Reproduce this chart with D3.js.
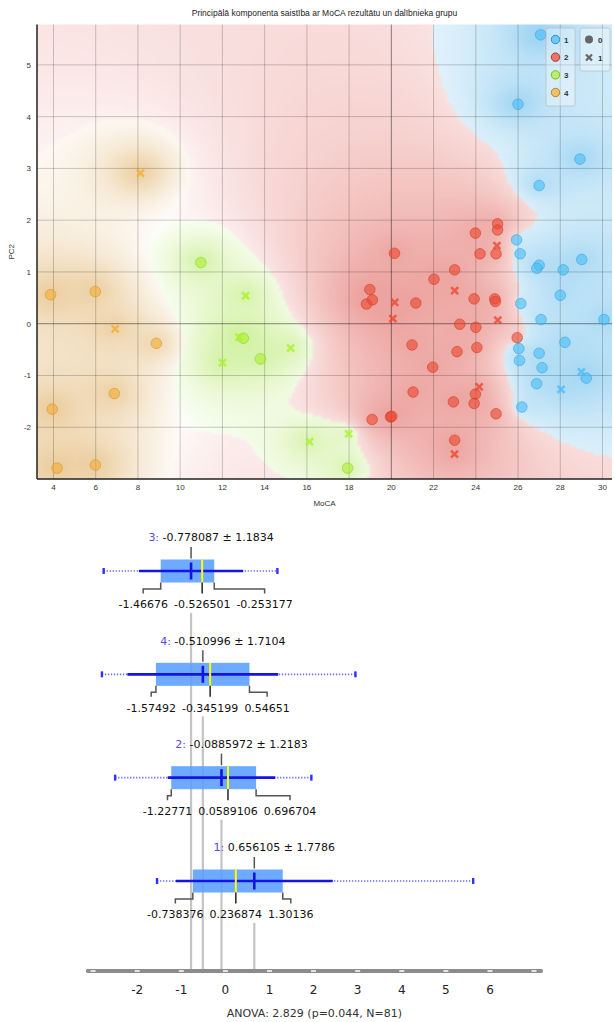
<!DOCTYPE html>
<html><head><meta charset="utf-8">
<script src="https://cdn.jsdelivr.net/npm/d3@7"></script>
<style>
html,body{margin:0;padding:0;background:#fff;}
svg{display:block;}
</style></head><body>
<svg id="chart" width="614" height="1022"></svg>
<script>
// ---------------- DATA ----------------
const titleText = "Principālā komponenta saistība ar MoCA rezultātu un dalībnieka grupu";
const xLabel = "MoCA";
const yLabel = "PC2";
const groupNames = ["1", "2", "3", "4"];
const shapeNames = ["0", "1"];
const xTicks = [4, 6, 8, 10, 12, 14, 16, 18, 20, 22, 24, 26, 28, 30];
const yTicks = [-2, -1, 0, 1, 2, 3, 4, 5];

// group 1
const mocaG1 = [27.07,26.0,28.93,27.0,25.93,26.1,29.02,27.0,26.89,28.14,28.0,26.13,27.09,30.07,28.22,26.04,27.0,26.07,27.14,29.0,29.23,26.88,28.04,26.18];
const pc2G1  = [5.58,4.24,3.18,2.67,1.62,1.35,1.24,1.13,1.07,1.04,0.55,0.39,0.08,0.08,-0.36,-0.48,-0.57,-0.71,-0.85,-0.93,-1.05,-1.16,-1.27,-1.61];
const shapeG1 = [0,0,0,0,0,0,0,0,0,0,0,0,0,0,0,0,0,0,0,1,0,0,1,0];
// group 2
const mocaG2 = [25.03,25.03,23.98,25.0,20.15,24.2,24.96,23.0,22.02,18.98,19.1,18.82,20.16,21.16,23.0,23.92,24.9,24.93,20.07,25.04,23.24,24.0,25.96,20.98,23.11,24.05,21.96,24.16,21.03,23.98,22.94,23.92,24.96,19.96,20.02,19.09,23.0,22.99];
const pc2G2  = [1.93,1.81,1.75,1.51,1.36,1.35,1.35,1.04,0.86,0.66,0.46,0.38,0.41,0.40,0.64,0.48,0.48,0.43,0.10,0.07,-0.01,-0.07,-0.27,-0.41,-0.54,-0.46,-0.84,-1.22,-1.32,-1.36,-1.51,-1.54,-1.74,-1.80,-1.79,-1.85,-2.25,-2.52];
const shapeG2 = [0,0,0,1,0,0,0,0,0,0,0,0,1,0,1,0,0,0,1,1,0,0,0,0,0,0,0,1,0,0,0,0,0,0,0,0,0,1];
// group 3
const mocaG3 = [10.98,13.1,12.78,12.99,13.8,12.0,15.23,16.13,17.98,17.93];
const pc2G3  = [1.18,0.54,-0.26,-0.28,-0.68,-0.75,-0.47,-2.28,-2.13,-2.79];
const shapeG3 = [0,1,1,0,0,1,1,1,1,0];
// group 4
const mocaG4 = [3.86,5.98,6.92,8.87,3.94,6.88,4.17,5.98,8.12];
const pc2G4  = [0.56,0.62,-0.10,-0.38,-1.65,-1.35,-2.79,-2.73,2.91];
const shapeG4 = [0,0,1,0,0,0,0,0,1];

// box plot statistics of PC2 by group (rows ordered as displayed)
const boxGroups = ["3", "4", "2", "1"];
const boxMean = [-0.778087, -0.510996, -0.0885972, 0.656105];
const boxSD = [1.1834, 1.7104, 1.2183, 1.7786];
const boxQ1 = [-1.46676, -1.57492, -1.22771, -0.738376];
const boxMedian = [-0.526501, -0.345199, 0.0589106, 0.236874];
const boxQ3 = [-0.253177, 0.54651, 0.696704, 1.30136];
const boxMin = [-2.76, -2.80, -2.50, -1.55];
const boxMax = [1.18, 2.95, 1.95, 5.62];
const boxTicks = [-2, -1, 0, 1, 2, 3, 4, 5, 6];
const anovaText = "ANOVA: 2.829 (p=0.044, N=81)";

// ---------------- STYLE ----------------
const pointColors = ["#46befa", "#ed462f", "#aaf22b", "#f5ae32"];
const regionColors = [[80,178,232],[222,88,80],[165,228,70],[220,165,80]];

const groupSets = [[mocaG1, pc2G1, shapeG1], [mocaG2, pc2G2, shapeG2], [mocaG3, pc2G3, shapeG3], [mocaG4, pc2G4, shapeG4]];
const points = [];
groupSets.forEach((s, g) => s[0].forEach((m, i) => points.push({ g, m, v: s[1][i], s: s[2][i] })));

const svg = d3.select("#chart");

// ---------------- SCATTER ----------------
const L = 37, R = 612, T = 24.5, B = 479;
const x = d3.scaleLinear().domain([3.22, 30.45]).range([L, R]);
const y = d3.scaleLinear().domain([-3.0, 5.78]).range([B, T]);

// class region background (distance-weighted class shares, on a unit-square normalisation)
(function () {
  const res = 3;
  const W = R - L, H = B - T;
  const gw = Math.ceil(W / res), gh = Math.ceil(H / res);
  const cv = document.createElement("canvas");
  cv.width = gw; cv.height = gh;
  const ctx = cv.getContext("2d");
  const im = ctx.createImageData(gw, gh);
  const ky = W / H;
  const pts = points.map(p => [x(p.m) - L, (y(p.v) - T) * ky, p.g]);
  const s2 = 15 * 15;
  for (let j = 0; j < gh; j++) {
    for (let i = 0; i < gw; i++) {
      const cx = (i + 0.5) * res, cy = (j + 0.5) * res * ky;
      const w = [0, 0, 0, 0];
      for (const p of pts) {
        const dx = p[0] - cx, dy = p[1] - cy;
        w[p[2]] += Math.pow(dx * dx + dy * dy + s2, -0.9);
      }
      const tot = w[0] + w[1] + w[2] + w[3];
      let best = 0;
      for (let k = 1; k < 4; k++) if (w[k] > w[best]) best = k;
      const pr = w[best] / tot;
      let a = Math.max(0, Math.min(1, (pr - 0.28) / 0.6));
      a = 0.55 * Math.pow(a, 0.85);
      const c = regionColors[best];
      const o = (j * gw + i) * 4;
      im.data[o] = 255 * (1 - a) + c[0] * a;
      im.data[o + 1] = 255 * (1 - a) + c[1] * a;
      im.data[o + 2] = 255 * (1 - a) + c[2] * a;
      im.data[o + 3] = 255;
    }
  }
  ctx.putImageData(im, 0, 0);
  svg.append("image")
    .attr("x", L).attr("y", T).attr("width", W).attr("height", H)
    .attr("preserveAspectRatio", "none")
    .attr("href", cv.toDataURL());
})();

// grid
const grid = svg.append("g");
grid.selectAll("line.vx").data(xTicks).join("line")
  .attr("x1", d => x(d)).attr("x2", d => x(d)).attr("y1", T).attr("y2", B)
  .attr("stroke", d => d === 20 ? "rgba(0,0,0,0.45)" : "rgba(0,0,0,0.2)").attr("stroke-width", 1);
grid.selectAll("line.hy").data(yTicks).join("line")
  .attr("y1", d => y(d)).attr("y2", d => y(d)).attr("x1", L).attr("x2", R)
  .attr("stroke", d => d === 0 ? "rgba(0,0,0,0.45)" : "rgba(0,0,0,0.2)").attr("stroke-width", 1);

// axes
svg.append("line").attr("x1", L).attr("x2", L).attr("y1", T).attr("y2", B).attr("stroke", "#222").attr("stroke-width", 1.5);
svg.append("line").attr("x1", L).attr("x2", R).attr("y1", B).attr("y2", B).attr("stroke", "#222").attr("stroke-width", 1.5);

const tickFont = "Liberation Sans, Arial, sans-serif";
svg.append("g").selectAll("text").data(xTicks).join("text")
  .attr("x", d => x(d)).attr("y", B + 11).attr("text-anchor", "middle")
  .attr("font-family", tickFont).attr("font-size", 8).attr("fill", "#333").text(d => d);
svg.append("g").selectAll("text").data(yTicks).join("text")
  .attr("x", L - 6).attr("y", d => y(d) + 3).attr("text-anchor", "end")
  .attr("font-family", tickFont).attr("font-size", 8).attr("fill", "#333").text(d => d);

svg.append("text").attr("x", (L + R) / 2).attr("y", 506).attr("text-anchor", "middle")
  .attr("font-family", tickFont).attr("font-size", 8).attr("fill", "#333").text(xLabel);
svg.append("text").attr("transform", `translate(14,${(T + B) / 2}) rotate(-90)`).attr("text-anchor", "middle")
  .attr("font-family", tickFont).attr("font-size", 8).attr("fill", "#333").text(yLabel);
svg.append("text").attr("x", (L + R) / 2).attr("y", 16).attr("text-anchor", "middle")
  .attr("font-family", tickFont).attr("font-size", 8.5).attr("fill", "#222").text(titleText);

// points
const pg = svg.append("g");
pg.selectAll("circle").data(points.filter(p => p.s === 0)).join("circle")
  .attr("cx", p => x(p.m)).attr("cy", p => y(p.v)).attr("r", 5.3)
  .attr("fill", p => pointColors[p.g]).attr("fill-opacity", 0.6)
  .attr("stroke", p => d3.color(pointColors[p.g]).darker(0.5)).attr("stroke-opacity", 0.55).attr("stroke-width", 1);
const cross = (cx, cy, s) => `M${cx - s},${cy - s}L${cx + s},${cy + s}M${cx - s},${cy + s}L${cx + s},${cy - s}`;
pg.selectAll("path").data(points.filter(p => p.s === 1)).join("path")
  .attr("d", p => cross(x(p.m), y(p.v), 3.5))
  .attr("stroke", p => pointColors[p.g]).attr("stroke-opacity", 0.8).attr("stroke-width", 2.5).attr("fill", "none");

// legends
const leg = svg.append("g");
leg.append("rect").attr("x", 546).attr("y", 28).attr("width", 29).attr("height", 78).attr("rx", 2)
  .attr("fill", "rgba(255,255,255,0.35)").attr("stroke", "rgba(180,180,180,0.6)");
const legY = d3.scalePoint().domain(groupNames).range([39.5, 92.5]);
leg.selectAll("circle.g").data(groupNames).join("circle")
  .attr("cx", 555.5).attr("cy", d => legY(d)).attr("r", 4.2)
  .attr("fill", (d, i) => pointColors[i]).attr("fill-opacity", 0.7)
  .attr("stroke", (d, i) => d3.color(pointColors[i]).darker(0.8)).attr("stroke-width", 1);
leg.selectAll("text.g").data(groupNames).join("text")
  .attr("x", 564).attr("y", d => legY(d) + 3).attr("font-family", tickFont).attr("font-size", 8)
  .attr("font-weight", "bold").attr("fill", "#333").text(d => d);
leg.append("rect").attr("x", 580).attr("y", 28).attr("width", 30).attr("height", 43).attr("rx", 2)
  .attr("fill", "rgba(255,255,255,0.35)").attr("stroke", "rgba(180,180,180,0.6)");
const shY = d3.scalePoint().domain(shapeNames).range([39.5, 57.5]);
leg.append("circle").attr("cx", 589).attr("cy", shY("0")).attr("r", 4).attr("fill", "#666");
leg.append("path").attr("d", cross(589, shY("1"), 3)).attr("stroke", "#666").attr("stroke-width", 2.2);
leg.selectAll("text.s").data(shapeNames).join("text")
  .attr("x", 598).attr("y", d => shY(d) + 3).attr("font-family", tickFont).attr("font-size", 8)
  .attr("font-weight", "bold").attr("fill", "#333").text(d => d);

// ---------------- BOX PLOTS ----------------
const bFont = "DejaVu Sans, Verdana, sans-serif";
const bx = d3.scaleLinear().domain([-3.12, 7.16]).range([87.8, 541.1]);
const by = d3.scalePoint().domain(boxGroups).range([571, 881]);
const axisY = 971;
const bh = 11.5;

// comparison lines (behind)
const cmp = svg.append("g");
boxGroups.forEach((g, i) => {
  cmp.append("line").attr("x1", bx(boxMean[i])).attr("x2", bx(boxMean[i]))
    .attr("y1", by(g) + 42).attr("y2", axisY - 2)
    .attr("stroke", "#c4c4c4").attr("stroke-width", 2.2);
});

boxGroups.forEach((g, i) => {
  const cy = by(g);
  const row = svg.append("g");
  row.append("line").attr("x1", bx(boxMin[i])).attr("x2", bx(boxMax[i])).attr("y1", cy).attr("y2", cy)
    .attr("stroke", "#6a6aff").attr("stroke-width", 1.6).attr("stroke-dasharray", "1.3,1.7");
  [boxMin[i], boxMax[i]].forEach(v => {
    row.append("rect").attr("x", bx(v) - 1.2).attr("y", cy - 3).attr("width", 2.4).attr("height", 6)
      .attr("fill", "#3030ff");
  });
  row.append("rect").attr("x", bx(boxQ1[i])).attr("y", cy - bh)
    .attr("width", bx(boxQ3[i]) - bx(boxQ1[i])).attr("height", 2 * bh)
    .attr("fill", "rgb(90,158,255)").attr("fill-opacity", 0.88);
  row.append("line").attr("x1", bx(boxMean[i] - boxSD[i])).attr("x2", bx(boxMean[i] + boxSD[i]))
    .attr("y1", cy).attr("y2", cy).attr("stroke", "#1414e6").attr("stroke-width", 2.6);
  row.append("line").attr("x1", bx(boxMedian[i])).attr("x2", bx(boxMedian[i]))
    .attr("y1", cy - bh).attr("y2", cy + bh).attr("stroke", "#ffff00").attr("stroke-width", 2);
  row.append("line").attr("x1", bx(boxMean[i])).attr("x2", bx(boxMean[i]))
    .attr("y1", cy - 8.5).attr("y2", cy + 8.5).attr("stroke", "#1414e6").attr("stroke-width", 2.6);
  row.append("line").attr("x1", bx(boxMean[i])).attr("x2", bx(boxMean[i]))
    .attr("y1", cy - 24).attr("y2", cy - bh - 1).attr("stroke", "#555").attr("stroke-width", 1.5);
  const ml = row.append("text").attr("x", bx(boxMean[i]) + 20).attr("y", cy - 33.5).attr("dy", "0.35em")
    .attr("text-anchor", "middle").attr("font-family", bFont).attr("font-size", 11).attr("fill", "#111");
  ml.append("tspan").attr("fill", "#5b46e8").text(g + ": ");
  ml.append("tspan").text(`${boxMean[i]} \u00b1 ${boxSD[i]}`);

  const ly = cy + 33.5;
  const mk = (v, axv) => row.append("text").attr("y", ly).attr("dy", "0.35em").attr("text-anchor", "middle")
    .attr("font-family", bFont).attr("font-size", 11).attr("fill", "#111").text(String(v)).attr("x", axv);
  const medX = bx(boxMedian[i]);
  const mt = mk(boxMedian[i], medX);
  const mw = mt.node().getComputedTextLength();
  const gap = 6;
  const q1t = mk(boxQ1[i], bx(boxQ1[i]));
  const q1w = q1t.node().getComputedTextLength();
  let q1c = bx(boxQ1[i]);
  if (q1c + q1w / 2 > medX - mw / 2 - gap) q1c = medX - mw / 2 - gap - q1w / 2;
  q1t.attr("x", q1c);
  const q3t = mk(boxQ3[i], bx(boxQ3[i]));
  const q3w = q3t.node().getComputedTextLength();
  let q3c = bx(boxQ3[i]);
  if (q3c - q3w / 2 < medX + mw / 2 + gap) q3c = medX + mw / 2 + gap + q3w / 2;
  q3t.attr("x", q3c);
  const c1 = cy + bh, c2 = cy + 18, c3 = cy + 22.5;
  const conn = (qx, lx) => `M${qx},${c1}V${c2}H${lx}V${c3}`;
  row.append("path").attr("d", conn(bx(boxQ1[i]), q1c)).attr("fill", "none").attr("stroke", "#555").attr("stroke-width", 1.5);
  row.append("path").attr("d", conn(bx(boxQ3[i]), q3c)).attr("fill", "none").attr("stroke", "#555").attr("stroke-width", 1.5);
  row.append("line").attr("x1", medX).attr("x2", medX).attr("y1", c1).attr("y2", c3).attr("stroke", "#222").attr("stroke-width", 1.5);
});

// axis
const ax = svg.append("g");
ax.append("line").attr("x1", bx.range()[0]).attr("x2", bx.range()[1]).attr("y1", axisY).attr("y2", axisY)
  .attr("stroke", "#8c8c8c").attr("stroke-width", 4).attr("stroke-linecap", "round");
ax.selectAll("rect").data(d3.range(-3, 8)).join("rect")
  .attr("x", d => bx(d) - 2.5).attr("y", axisY - 0.75).attr("width", 5).attr("height", 1.5).attr("fill", "#fff");
ax.selectAll("text").data(boxTicks).join("text")
  .attr("x", d => bx(d)).attr("y", axisY + 19).attr("dy", "0.35em").attr("text-anchor", "middle")
  .attr("font-family", bFont).attr("font-size", 12).attr("fill", "#222").text(d => d);
svg.append("text").attr("x", (bx.range()[0] + bx.range()[1]) / 2).attr("y", 1013).attr("dy", "0.35em")
  .attr("text-anchor", "middle").attr("font-family", bFont).attr("font-size", 11).attr("fill", "#333").text(anovaText);
</script>
</body></html>
